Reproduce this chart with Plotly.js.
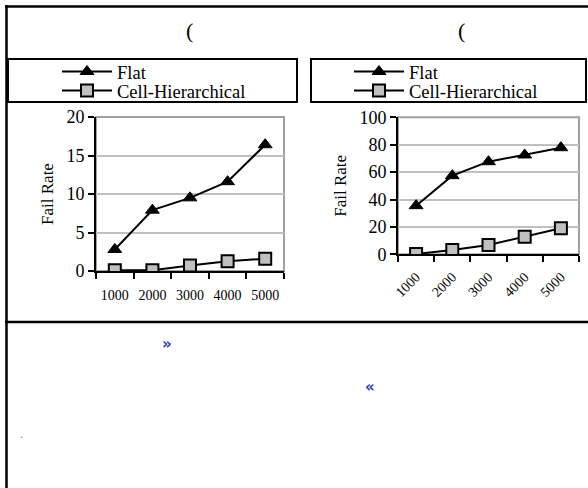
<!DOCTYPE html>
<html>
<head>
<meta charset="utf-8">
<script src="https://cdn.plot.ly/plotly-3.0.1.min.js"></script>
<style>
html,body{margin:0;padding:0;background:#fff;}
#chart{width:588px;height:488px;}
</style>
</head>
<body>
<div id="chart"></div>
<script>
// ---- data ----
const categories = ["1000", "2000", "3000", "4000", "5000"];
const seriesNames = ["Flat", "Cell-Hierarchical"];
const leftFlat = [2.8, 7.9, 9.5, 11.6, 16.4];
const leftCell = [0.1, 0.1, 0.7, 1.25, 1.6];
const rightFlat = [35.5, 57.4, 67.6, 72.5, 77.8];
const rightCell = [0.2, 3.2, 6.8, 12.8, 19];
const yTitle = "Fail Rate";
const leftYTicks = [0, 5, 10, 15, 20];
const rightYTicks = [0, 20, 40, 60, 80, 100];

const W = 588, H = 488;
const px = v => v / W;
const py = v => 1 - v / H;
const serif = "Liberation Serif, Times New Roman, serif";

const flatStyle = {
  mode: "lines+markers",
  line: {color: "#000", width: 2},
  marker: {symbol: "triangle-up", size: 12, color: "#000", line: {color: "#000", width: 1}}
};
const cellStyle = {
  mode: "lines+markers",
  line: {color: "#000", width: 2},
  marker: {symbol: "square", size: 12, color: "#c0c0c0", line: {color: "#000", width: 2}}
};

const traces = [
  Object.assign({x: categories, y: leftFlat, name: seriesNames[0], xaxis: "x", yaxis: "y", legend: "legend"}, flatStyle),
  Object.assign({x: categories, y: leftCell, name: seriesNames[1], xaxis: "x", yaxis: "y", legend: "legend2"}, cellStyle),
  Object.assign({x: categories, y: rightFlat, name: seriesNames[0], xaxis: "x2", yaxis: "y2", legend: "legend3"}, flatStyle),
  Object.assign({x: categories, y: rightCell, name: seriesNames[1], xaxis: "x2", yaxis: "y2", legend: "legend4"}, cellStyle)
];

const xBase = {
  type: "category",
  range: [-0.5, 4.5],
  showline: true, linecolor: "#000", linewidth: 2,
  ticks: "outside", tickson: "boundaries", ticklen: 6, tickwidth: 2, tickcolor: "#000",
  showgrid: false, zeroline: false,
  tickfont: {family: serif, size: 14, color: "#000"},
  fixedrange: true
};
const yBase = {
  showline: true, linecolor: "#000", linewidth: 2,
  ticks: "outside", ticklen: 6, tickwidth: 2, tickcolor: "#000",
  showgrid: true, gridcolor: "#c0c0c0", gridwidth: 2,
  zeroline: false,
  tickfont: {family: serif, size: 18, color: "#000"},
  title: {text: yTitle, font: {family: serif, size: 17, color: "#000"}, standoff: 8},
  fixedrange: true
};

const legendBase = {
  bgcolor: "rgba(0,0,0,0)", borderwidth: 0,
  font: {family: serif, size: 18.5, color: "#000"},
  xanchor: "left", yanchor: "middle",
  tracegroupgap: 0, itemwidth: 50
};

const lineShape = (x0, y0, x1, y1, w, c) => ({
  type: "line", xref: "paper", yref: "paper",
  x0: px(x0), y0: py(y0), x1: px(x1), y1: py(y1),
  line: {color: c || "#000", width: w}
});
const rectShape = (x0, y0, x1, y1, w, c) => ({
  type: "rect", xref: "paper", yref: "paper",
  x0: px(x0), y0: py(y0), x1: px(x1), y1: py(y1),
  line: {color: c || "#000", width: w}, fillcolor: "rgba(0,0,0,0)"
});

const layout = {
  width: W, height: H,
  margin: {l: 0, r: 0, t: 0, b: 0},
  paper_bgcolor: "#fff", plot_bgcolor: "#fff",
  showlegend: true,
  xaxis: Object.assign({}, xBase, {domain: [px(96), px(284)], anchor: "y", tickangle: 0, ticklabelstandoff: 10}),
  yaxis: Object.assign({}, yBase, {domain: [py(271), py(117)], range: [0, 20], tickvals: leftYTicks, anchor: "x"}),
  xaxis2: Object.assign({}, xBase, {domain: [px(398), px(579)], anchor: "y2", tickangle: -45, ticklabelstandoff: 7}),
  yaxis2: Object.assign({}, yBase, {domain: [py(254.3), py(117.3)], range: [0, 100], tickvals: rightYTicks, anchor: "x2"}),
  legend: Object.assign({}, legendBase, {x: px(57), y: py(72)}),
  legend2: Object.assign({}, legendBase, {x: px(57), y: py(91)}),
  legend3: Object.assign({}, legendBase, {x: px(349), y: py(72)}),
  legend4: Object.assign({}, legendBase, {x: px(349), y: py(91)}),
  shapes: [
    // page/table lines
    lineShape(5, 6.5, 588, 6.5, 2.5),
    lineShape(6.5, 5, 6.5, 488, 2.5),
    lineShape(5, 322, 588, 322, 2.5),
    // legend boxes
    rectShape(8, 59, 297, 102, 2),
    rectShape(311, 59, 586, 102, 2),
    // plot area borders (gray)
    {type: "rect", xref: "x domain", yref: "y domain", x0: 0, x1: 1, y0: 0, y1: 1, line: {color: "#a0a0a0", width: 2}, layer: "below"},
    {type: "rect", xref: "x2 domain", yref: "y2 domain", x0: 0, x1: 1, y0: 0, y1: 1, line: {color: "#a0a0a0", width: 2}, layer: "below"}
  ],
  annotations: [
    {text: "(", xref: "paper", yref: "paper", x: px(184), y: py(31), yanchor: "middle", showarrow: false, font: {family: serif, size: 22, color: "#000"}},
    {text: "(", xref: "paper", yref: "paper", x: px(467), y: py(31), yanchor: "middle", showarrow: false, font: {family: serif, size: 22, color: "#000"}},
    {text: "<b>»</b>", xref: "paper", yref: "paper", x: px(160), y: py(344), yanchor: "middle", showarrow: false, font: {family: "DejaVu Sans", size: 15, color: "#3a3ab0"}},
    {text: "<b>«</b>", xref: "paper", yref: "paper", x: px(370), y: py(387), yanchor: "middle", showarrow: false, font: {family: "DejaVu Sans", size: 15, color: "#3a3ab0"}},
    {text: ".", xref: "paper", yref: "paper", x: px(18), y: py(434), yanchor: "middle", showarrow: false, font: {family: "DejaVu Sans", size: 10, color: "#5555bb"}}
  ]
};

Plotly.newPlot("chart", traces, layout, {displayModeBar: false, staticPlot: true});
</script>
</body>
</html>
